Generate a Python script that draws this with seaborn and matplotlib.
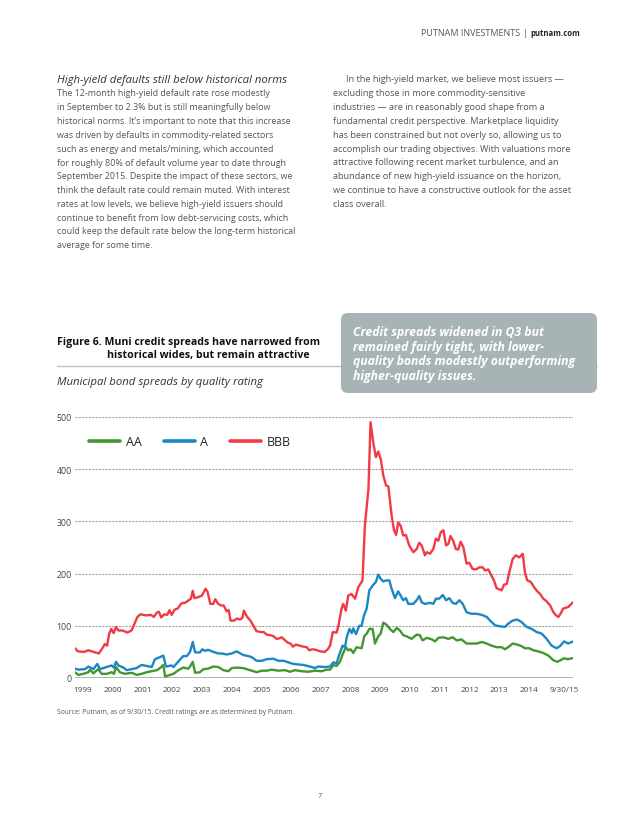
import matplotlib
matplotlib.use("Agg")
import matplotlib.pyplot as plt
import matplotlib.transforms as mtransforms
from matplotlib.patches import FancyBboxPatch
from matplotlib.lines import Line2D
import pandas as pd
import seaborn as sns

# Municipal bond spreads by quality rating (bps)
aa_x = [1999.00, 1999.11, 1999.28, 1999.45, 1999.50, 1999.62, 1999.78, 1999.90, 2000.07, 2000.23,
        2000.31, 2000.38, 2000.51, 2000.68, 2000.91, 2001.07, 2001.24, 2001.41, 2001.58, 2001.75,
        2001.86, 2001.97, 2002.03, 2002.20, 2002.31, 2002.48, 2002.64, 2002.81, 2002.87, 2002.96,
        2003.04, 2003.20, 2003.32, 2003.48, 2003.65, 2003.82, 2003.99, 2004.16, 2004.27, 2004.44,
        2004.66, 2004.83, 2005.00, 2005.11, 2005.28, 2005.45, 2005.61, 2005.84, 2006.06, 2006.23,
        2006.40, 2006.62, 2006.85, 2007.07, 2007.30, 2007.46, 2007.58, 2007.69, 2007.80, 2007.91,
        2008.00, 2008.11, 2008.19, 2008.27, 2008.36, 2008.47, 2008.64, 2008.73, 2008.81, 2008.90,
        2009.01, 2009.09, 2009.20, 2009.28, 2009.37, 2009.48, 2009.59, 2009.71, 2009.82, 2009.93,
        2010.04, 2010.15, 2010.32, 2010.49, 2010.60, 2010.69, 2010.83, 2011.00, 2011.11, 2011.22,
        2011.39, 2011.56, 2011.70, 2011.84, 2012.00, 2012.17, 2012.34, 2012.51, 2012.68, 2012.85,
        2013.01, 2013.18, 2013.35, 2013.46, 2013.57, 2013.72, 2013.88, 2014.02, 2014.13, 2014.28,
        2014.42, 2014.58, 2014.75, 2014.92, 2015.09, 2015.22, 2015.33, 2015.45, 2015.56, 2015.75]
aa_y = [11, 6, 8, 11, 16, 9, 17, 8, 8, 11,
        8, 21, 11, 8, 10, 6, 8, 11, 13, 15,
        19, 25, 3, 6, 8, 15, 20, 18, 22, 31,
        10, 11, 17, 18, 22, 21, 15, 13, 19, 20,
        19, 16, 13, 11, 14, 14, 16, 14, 15, 12,
        15, 13, 12, 14, 13, 16, 16, 25, 23, 31,
        45, 59, 53, 55, 48, 59, 57, 80, 85, 94,
        94, 66, 80, 85, 106, 102, 94, 88, 96, 91,
        82, 80, 75, 83, 82, 72, 77, 74, 70, 77,
        78, 75, 78, 72, 74, 66, 66, 66, 69, 66,
        62, 59, 59, 55, 59, 66, 64, 61, 57, 57,
        53, 51, 48, 43, 34, 31, 34, 38, 36, 38]

a_x = [1999.00, 1999.11, 1999.34, 1999.45, 1999.62, 1999.75, 1999.84, 2000.07, 2000.23, 2000.31,
       2000.38, 2000.46, 2000.63, 2000.74, 2000.91, 2001.07, 2001.24, 2001.41, 2001.58, 2001.69,
       2001.86, 2001.97, 2002.06, 2002.25, 2002.31, 2002.42, 2002.53, 2002.64, 2002.76, 2002.87,
       2002.96, 2003.04, 2003.20, 2003.28, 2003.37, 2003.48, 2003.65, 2003.82, 2003.93, 2004.10,
       2004.27, 2004.44, 2004.66, 2004.83, 2004.94, 2005.11, 2005.28, 2005.45, 2005.67, 2005.84,
       2006.01, 2006.17, 2006.34, 2006.51, 2006.68, 2006.90, 2007.07, 2007.18, 2007.41, 2007.58,
       2007.69, 2007.80, 2007.86, 2008.00, 2008.08, 2008.14, 2008.23, 2008.31, 2008.36, 2008.45,
       2008.56, 2008.64, 2008.72, 2008.81, 2008.90, 2009.01, 2009.12, 2009.20, 2009.28, 2009.37,
       2009.48, 2009.57, 2009.65, 2009.76, 2009.87, 2009.95, 2010.04, 2010.13, 2010.21, 2010.38,
       2010.49, 2010.58, 2010.66, 2010.77, 2010.94, 2011.05, 2011.14, 2011.25, 2011.37, 2011.48,
       2011.59, 2011.70, 2011.81, 2011.93, 2012.04, 2012.17, 2012.34, 2012.51, 2012.68, 2012.85,
       2012.96, 2013.13, 2013.29, 2013.46, 2013.57, 2013.72, 2013.88, 2014.02, 2014.19, 2014.36,
       2014.53, 2014.70, 2014.86, 2015.03, 2015.20, 2015.31, 2015.45, 2015.59, 2015.75]
a_y = [18, 16, 17, 22, 17, 27, 17, 21, 24, 20,
       31, 24, 20, 15, 17, 19, 25, 23, 21, 36,
       40, 43, 22, 24, 21, 28, 35, 42, 42, 50,
       69, 49, 49, 55, 52, 54, 50, 47, 47, 45,
       47, 51, 44, 42, 40, 33, 33, 36, 37, 33,
       33, 30, 27, 26, 25, 22, 19, 22, 21, 22,
       30, 28, 40, 62, 59, 78, 94, 86, 95, 84,
       100, 100, 120, 133, 168, 177, 184, 198, 190, 185,
       187, 187, 171, 153, 166, 158, 149, 153, 142, 142,
       149, 157, 145, 142, 144, 142, 152, 152, 159, 149,
       153, 144, 142, 149, 142, 126, 123, 123, 121, 117,
       110, 101, 99, 98, 104, 110, 112, 107, 98, 94,
       88, 85, 75, 62, 57, 61, 70, 66, 70]

bbb_x = [1999.00, 1999.10, 1999.30, 1999.45, 1999.62, 1999.80, 1999.90, 2000.00, 2000.08, 2000.15,
         2000.22, 2000.30, 2000.38, 2000.46, 2000.60, 2000.76, 2000.90, 2001.00, 2001.10, 2001.20,
         2001.40, 2001.55, 2001.65, 2001.75, 2001.82, 2001.90, 2002.00, 2002.10, 2002.18, 2002.25,
         2002.35, 2002.45, 2002.58, 2002.70, 2002.80, 2002.90, 2002.96, 2003.02, 2003.15, 2003.27,
         2003.39, 2003.46, 2003.55, 2003.65, 2003.72, 2003.80, 2003.90, 2004.00, 2004.10, 2004.17,
         2004.23, 2004.35, 2004.45, 2004.55, 2004.63, 2004.68, 2004.78, 2004.90, 2005.00, 2005.10,
         2005.25, 2005.35, 2005.45, 2005.58, 2005.68, 2005.78, 2005.88, 2005.95, 2006.05, 2006.15,
         2006.25, 2006.33, 2006.43, 2006.55, 2006.68, 2006.80, 2006.88, 2006.98, 2007.10, 2007.25,
         2007.40, 2007.50, 2007.58, 2007.67, 2007.80, 2007.86, 2007.97, 2008.02, 2008.11, 2008.19,
         2008.30, 2008.42, 2008.53, 2008.67, 2008.75, 2008.87, 2008.94, 2009.03, 2009.12, 2009.20,
         2009.28, 2009.37, 2009.46, 2009.54, 2009.65, 2009.73, 2009.80, 2009.87, 2009.95, 2010.04,
         2010.13, 2010.24, 2010.38, 2010.49, 2010.58, 2010.66, 2010.77, 2010.83, 2010.94, 2011.05,
         2011.14, 2011.22, 2011.30, 2011.39, 2011.48, 2011.56, 2011.63, 2011.72, 2011.81, 2011.89,
         2011.97, 2012.06, 2012.17, 2012.26, 2012.37, 2012.49, 2012.60, 2012.71, 2012.79, 2012.90,
         2013.01, 2013.09, 2013.18, 2013.27, 2013.35, 2013.43, 2013.52, 2013.61, 2013.72, 2013.83,
         2013.94, 2014.06, 2014.13, 2014.21, 2014.33, 2014.44, 2014.55, 2014.64, 2014.75, 2014.86,
         2014.98, 2015.09, 2015.18, 2015.26, 2015.34, 2015.42, 2015.59, 2015.75]
bbb_y = [57, 51, 50, 53, 50, 47, 55, 65, 62, 85,
         94, 86, 98, 91, 91, 87, 91, 104, 117, 122,
         120, 121, 117, 125, 127, 116, 122, 121, 130, 121,
         131, 133, 143, 144, 148, 152, 167, 153, 155, 158,
         171, 165, 142, 142, 151, 143, 139, 139, 128, 130,
         110, 110, 114, 112, 115, 129, 118, 110, 100, 90,
         88, 88, 83, 82, 80, 75, 76, 78, 73, 68,
         66, 60, 64, 62, 60, 59, 53, 55, 54, 51,
         50, 55, 62, 88, 87, 100, 134, 142, 129, 158,
         161, 152, 174, 187, 292, 362, 490, 452, 423, 434,
         420, 388, 369, 367, 311, 283, 274, 298, 292, 273,
         274, 254, 241, 247, 259, 254, 235, 241, 238, 247,
         267, 263, 279, 283, 254, 257, 272, 263, 247, 246,
         261, 251, 219, 221, 209, 208, 212, 212, 206, 208,
         196, 187, 172, 170, 168, 179, 180, 203, 228, 235,
         231, 238, 203, 187, 184, 174, 166, 161, 152, 147,
         139, 126, 120, 117, 124, 133, 136, 145]

ratings = ["AA", "A", "BBB"]
colors = {"AA": "#42962f", "A": "#1b88c4", "BBB": "#f23a44"}
tick_years = list(range(1999, 2015))
tick_labels = [str(y) for y in tick_years] + ["9/30/15"]

left_lines = [
    "The 12-month high-yield default rate rose modestly",
    "in September to 2.3% but is still meaningfully below",
    "historical norms. It\u2019s important to note that this increase",
    "was driven by defaults in commodity-related sectors",
    "such as energy and metals/mining, which accounted",
    "for roughly 80% of default volume year to date through",
    "September 2015. Despite the impact of these sectors, we",
    "think the default rate could remain muted. With interest",
    "rates at low levels, we believe high-yield issuers should",
    "continue to benefit from low debt-servicing costs, which",
    "could keep the default rate below the long-term historical",
    "average for some time.",
]
right_lines = [
    "In the high-yield market, we believe most issuers \u2014",
    "excluding those in more commodity-sensitive",
    "industries \u2014 are in reasonably good shape from a",
    "fundamental credit perspective. Marketplace liquidity",
    "has been constrained but not overly so, allowing us to",
    "accomplish our trading objectives. With valuations more",
    "attractive following recent market turbulence, and an",
    "abundance of new high-yield issuance on the horizon,",
    "we continue to have a constructive outlook for the asset",
    "class overall.",
]
box_lines = [
    "Credit spreads widened in Q3 but",
    "remained fairly tight, with lower-",
    "quality bonds modestly outperforming",
    "higher-quality issues.",
]

# long table for seaborn
frames = []
for name, xs, ys in [("AA", aa_x, aa_y), ("A", a_x, a_y), ("BBB", bbb_x, bbb_y)]:
    frames.append(pd.DataFrame({"date": xs, "spread": ys, "rating": name}))
df = pd.concat(frames, ignore_index=True)

sns.set_theme(style="white")
plt.rcParams['font.family'] = ['Open Sans', 'DejaVu Sans']

W, H = 640, 828
fig = plt.figure(figsize=(W / 100, H / 100), dpi=100)
fig.patch.set_facecolor("white")


def pos(x, y):
    return x / W, 1 - y / H


body_col = "#555555"

# page header
fig.text(*pos(520, 33), "PUTNAM INVESTMENTS", ha="right", va="center", fontsize=6.5, color="#555555")
fig.text(*pos(525, 33), "|", ha="center", va="center", fontsize=6.5, color="#555555")
fig.text(*pos(530, 33), "putnam.com", ha="left", va="center", fontsize=5.6, color="#222222", fontweight="bold")

# text columns
fig.text(*pos(57, 80), "High-yield defaults still below historical norms", ha="left", va="center",
         fontsize=8.2, style="italic", color="#333333")
for i, line in enumerate(left_lines):
    fig.text(*pos(57, 94 + 13.8 * i), line, ha="left", va="center", fontsize=6.4, color=body_col)
for i, line in enumerate(right_lines):
    x0 = 346 if i == 0 else 333
    fig.text(*pos(x0, 80 + 13.8 * i), line, ha="left", va="center", fontsize=6.6, color=body_col)

# figure title block
fig.text(*pos(57, 343), "Figure 6. Muni credit spreads have narrowed from", ha="left", va="center",
         fontsize=7.6, fontweight="bold", color="#111111")
fig.text(*pos(107, 356), "historical wides, but remain attractive", ha="left", va="center",
         fontsize=7.6, fontweight="bold", color="#111111")
fig.add_artist(Line2D([57 / W, 597 / W], [1 - 367 / H, 1 - 367 / H], transform=fig.transFigure,
                      color="#b9c1c3", lw=1.0))
fig.text(*pos(57, 383), "Municipal bond spreads by quality rating", ha="left", va="center",
         fontsize=8.2, style="italic", color="#333333")

# callout box (pixel coordinates)
box = FancyBboxPatch((341, H - 394), 256, 80, boxstyle="round,pad=0,rounding_size=7",
                     transform=mtransforms.IdentityTransform(), facecolor="#a7b3b5",
                     edgecolor="none", zorder=3)
fig.add_artist(box)
for i, line in enumerate(box_lines):
    fig.text(*pos(353, 333 + 14.5 * i), line, ha="left", va="center", fontsize=8.8,
             fontweight="bold", style="italic", color="white", zorder=4)

# chart
ax = fig.add_axes([75 / W, 1 - 679 / H, 498 / W, 261 / H])
for v in range(100, 501, 100):
    ax.axhline(v, color="#a3a3a3", lw=0.8, ls=(0, (2, 1)), zorder=0)
ax.axhline(0, color="#a3a3a3", lw=1.2, zorder=0)

sns.lineplot(data=df, x="date", y="spread", hue="rating", hue_order=ratings, palette=colors,
             estimator=None, linewidth=1.7, legend=False, ax=ax)

ax.set_xlim(1999.0, 2015.75)
ax.set_ylim(0, 500)
ax.set_yticks(range(0, 501, 100))
ax.set_yticklabels([str(v) for v in range(0, 501, 100)])
ax.set_xticks([y + 0.27 for y in tick_years] + [2015.45])
ax.set_xticklabels(tick_labels)
ax.tick_params(axis="y", length=0, pad=2.2, labelsize=6.3, labelcolor="#444444")
ax.tick_params(axis="x", length=0, pad=5.5, labelsize=5.9, labelcolor="#444444")
ax.set_xlabel("")
ax.set_ylabel("")
for s in ax.spines.values():
    s.set_visible(False)
ax.set_facecolor("none")

handles = [Line2D([], [], color=colors[r], lw=2.6) for r in ratings]
ax.legend(handles, ratings, loc="center left", bbox_to_anchor=(14 / 498, 1 - 25 / 261), ncol=3,
          frameon=False, fontsize=9, handlelength=2.5, handletextpad=0.45, columnspacing=1.75,
          borderaxespad=0, borderpad=0, labelcolor="#222222")

# footnotes
fig.text(*pos(57, 713), "Source: Putnam, as of 9/30/15. Credit ratings are as determined by Putnam.",
         ha="left", va="center", fontsize=4.85, color="#555555")
fig.text(*pos(320, 797), "7", ha="center", va="center", fontsize=5.5, color="#666666")

fig.savefig("out.png", dpi=100, facecolor="white")
